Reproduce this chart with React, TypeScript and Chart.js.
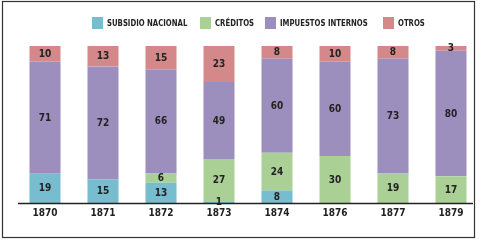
import React, { useEffect, useRef } from "react";
import { Chart, registerables } from "chart.js";

Chart.register(...registerables);

const categories = ["1870", "1871", "1872", "1873", "1874", "1876", "1877", "1879"];
const subsidioNacional = [19, 15, 13, 1, 8, 0, 0, 0];
const creditos = [0, 0, 6, 27, 24, 30, 19, 17];
const impuestosInternos = [71, 72, 66, 49, 60, 60, 73, 80];
const otros = [10, 13, 15, 23, 8, 10, 8, 3];

const seriesNames = ["SUBSIDIO NACIONAL", "CRÉDITOS", "IMPUESTOS INTERNOS", "OTROS"];
const seriesColors = ["#77bccf", "#abd095", "#9d8fbd", "#d48889"];

const FONT = "'Liberation Sans Narrow', 'DejaVu Sans Condensed', 'Liberation Sans', sans-serif";

const legendLeft = [92, 200, 265, 383];

export default function App() {
  const ref = useRef<HTMLCanvasElement | null>(null);

  useEffect(() => {
    document.body.style.margin = "0";
    const canvas = ref.current;
    if (!canvas) return;

    const labelsPlugin = {
      id: "segLabels",
      afterDatasetsDraw(chart: any) {
        const ctx = chart.ctx;
        ctx.save();
        ctx.strokeStyle = "#222";
        ctx.lineWidth = 1.3;
        ctx.beginPath();
        ctx.moveTo(18, chart.chartArea.bottom + 0.5);
        ctx.lineTo(473, chart.chartArea.bottom + 0.5);
        ctx.stroke();
        ctx.font = "bold 10px " + FONT;
        ctx.fillStyle = "#222";
        ctx.textAlign = "center";
        ctx.textBaseline = "middle";
        chart.data.datasets.forEach((ds: any, di: number) => {
          const meta = chart.getDatasetMeta(di);
          meta.data.forEach((el: any, i: number) => {
            const v = ds.data[i];
            if (!v) return;
            const p = el.getProps(["x", "y", "base"], true);
            ctx.fillText(String(v), p.x, (p.y + p.base) / 2 + 0.5);
          });
        });
        ctx.restore();
      },
      afterDraw(chart: any) {
        const ctx = chart.ctx;
        ctx.save();
        ctx.strokeStyle = "#333";
        ctx.lineWidth = 1.2;
        ctx.strokeRect(2.5, 1.5, 472, 236);
        ctx.restore();
      },
    };

    const dataSeries = [subsidioNacional, creditos, impuestosInternos, otros];
    const chart = new Chart(canvas, {
      type: "bar",
      data: {
        labels: categories,
        datasets: dataSeries.map((d, i) => ({
          label: seriesNames[i],
          data: d,
          backgroundColor: seriesColors[i],
          borderWidth: 0,
          barPercentage: 0.535,
          categoryPercentage: 1,
        })),
      },
      options: {
        animation: false,
        responsive: false,
        maintainAspectRatio: false,
        layout: { padding: { top: 46, left: 16, right: 3, bottom: 17 } },
        plugins: { legend: { display: false }, tooltip: { enabled: false } },
        scales: {
          x: {
            stacked: true,
            grid: { display: false, drawTicks: false },
            border: { display: false },
            ticks: {
              padding: 4,
              color: "#222",
              font: { family: FONT, size: 10, weight: "bold" },
            },
          },
          y: {
            stacked: true,
            display: false,
            min: 0,
            max: 100,
          },
        },
      },
      plugins: [labelsPlugin],
    });
    return () => chart.destroy();
  }, []);

  return (
    <div style={{ position: "absolute", left: 0, top: 0, width: 483, height: 240, background: "#fff" }}>
      <canvas ref={ref} width={483} height={240} style={{ position: "absolute", left: 0, top: 0 }} />
      {seriesNames.map((n, i) => (
        <div
          key={n}
          style={{
            position: "absolute",
            left: legendLeft[i],
            top: 17,
            height: 12,
            display: "flex",
            alignItems: "center",
            whiteSpace: "nowrap",
          }}
        >
          <div style={{ width: 11, height: 12, background: seriesColors[i], marginRight: 4 }} />
          <span
            style={{
              display: "inline-block",
              fontFamily: FONT,
              fontSize: 9.5,
              fontWeight: 600,
              color: "#222",
              lineHeight: "12px",
              transform: "scaleX(0.81)",
              transformOrigin: "left center",
            }}
          >
            {n}
          </span>
        </div>
      ))}
    </div>
  );
}
